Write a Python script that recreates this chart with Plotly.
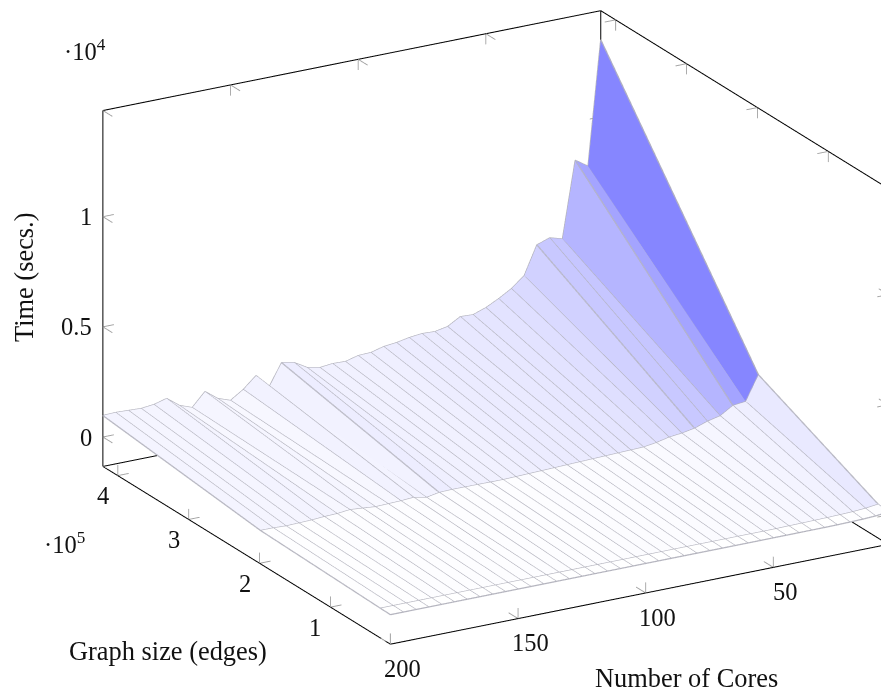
import plotly.graph_objects as go

cores = list(range(200, 0, -5))
edges = [0.155e5, 0.295e5, 1.985e5, 4.21e5]

time_row0 = [5]*30 + [6, 7, 8, 9, 10, 15, 25, 40, 70, 130]
time_row1 = [15]*20 + [18]*10 + [15, 20, 30, 35, 45, 55, 70, 90, 130, 200]
time_row2 = [180, 176, 150, 167, 185, 226, 244, 308, 258, 208, 226, 244, 285, 167, 276, 294, 290, 285, 280, 276,
             294, 312, 330, 348, 367, 385, 403, 421, 439, 457, 475, 561, 692, 756, 864, 1063, 1195, 1552, 1615, 2719]
time_row3 = [973, 993, 968, 941, 1005, 1163, 729, 520, 1131, 697, 493, 873, 1389, 733, 1747, 1629, 1290, 1172, 1235, 1213,
             1367, 1389, 1543, 1606, 1719, 1783, 1756, 1869, 2204, 2176, 2380, 2670, 3009, 3480, 4765, 4968, 4805, 8262, 7878, 13507]
rows = [time_row0, time_row1, time_row2, time_row3]

x_ticks = [200, 150, 100, 50]
y_ticks = [1e5, 2e5, 3e5, 4e5]
y_text = ["1", "2", "3", "4"]
z_ticks = [0, 5000, 10000]
z_text = ["0", "0.5", "1"]

XR = [200, 5]
YR = [0.155e5, 4.21e5]
ZR = [-1335, 14819]
PAD = 0.01

FONT = "Liberation Serif"
nx, ny = len(cores), len(edges)

vx, vy, vz = [], [], []
for r in range(ny):
    for c in range(nx):
        vx.append(cores[c]); vy.append(edges[r]); vz.append(rows[r][c])
I, J, K, cell = [], [], [], []
for r in range(ny - 1):
    for c in range(nx - 1):
        a = r*nx + c; b = a + 1; d = a + nx; e = d + 1
        m = (vz[a] + vz[b] + vz[d] + vz[e]) / 4
        I += [a, b]; J += [b, e]; K += [d, d]
        cell += [m, m]

fig = go.Figure()
fig.add_trace(go.Mesh3d(
    x=vx, y=vy, z=vz, i=I, j=J, k=K,
    intensity=cell, intensitymode="cell",
    colorscale=[[0, "#ffffff"], [1, "#0000ff"]], cmin=0, cmax=max(vz),
    showscale=False, flatshading=True,
    lighting=dict(ambient=1, diffuse=0, specular=0, fresnel=0, roughness=1),
    hoverinfo="skip",
))

lx, ly, lz = [], [], []
for r in range(ny):
    lx += cores + [None]; ly += [edges[r]]*nx + [None]; lz += rows[r] + [None]
for c in range(nx):
    lx += [cores[c]]*ny + [None]; ly += edges + [None]; lz += [rows[r][c] for r in range(ny)] + [None]
fig.add_trace(go.Scatter3d(x=lx, y=ly, z=lz, mode="lines", line=dict(color="#b4b4be", width=2.5), hoverinfo="skip"))

bx, by, bz = [], [], []
def seg(p, q, X, Y, Z):
    X += [p[0], q[0], None]; Y += [p[1], q[1], None]; Z += [p[2], q[2], None]
x0, x1 = XR; y0, y1 = YR; z0, z1 = ZR
for p, q in [((x0,y0,z0),(x1,y0,z0)), ((x0,y0,z0),(x0,y1,z0)), ((x0,y1,z0),(x0,y1,z1)),
             ((x0,y1,z1),(x1,y1,z1)), ((x1,y1,z1),(x1,y0,z1)), ((x1,y1,z0),(x1,y1,z1)),
             ((x0,y1,z0),(x1,y1,z0)), ((x1,y1,z0),(x1,y0,z0)), ((x1,y0,z0),(x1,y0,z1))]:
    seg(p, q, bx, by, bz)
fig.add_trace(go.Scatter3d(x=bx, y=by, z=bz, mode="lines", line=dict(color="#000000", width=2), hoverinfo="skip"))

dxt = (x1 - x0) * 0.022; dyt = (y1 - y0) * 0.033; dzt = (z1 - z0) * 0.03
tx, ty, tz = [], [], []
for v in x_ticks:
    for yy, zz, sy, sz in [(y0, z0, 1, 1), (y1, z0, -1, 1), (y1, z1, -1, -1)]:
        seg((v, yy, zz), (v, yy + sy*dyt, zz), tx, ty, tz)
        seg((v, yy, zz), (v, yy, zz + sz*dzt), tx, ty, tz)
for v in y_ticks:
    for xx, zz, sx, sz in [(x0, z0, 1, 1), (x1, z0, -1, 1), (x1, z1, -1, -1)]:
        seg((xx, v, zz), (xx + sx*dxt, v, zz), tx, ty, tz)
        seg((xx, v, zz), (xx, v, zz + sz*dzt), tx, ty, tz)
for v in z_ticks:
    for xx, yy, sx, sy in [(x0, y1, 1, -1), (x1, y1, -1, -1), (x1, y0, -1, 1)]:
        seg((xx, yy, v), (xx + sx*dxt, yy, v), tx, ty, tz)
        seg((xx, yy, v), (xx, yy + sy*dyt, v), tx, ty, tz)
fig.add_trace(go.Scatter3d(x=tx, y=ty, z=tz, mode="lines", line=dict(color="#a0a0a0", width=1.8), hoverinfo="skip"))

tick_font = dict(family=FONT, size=24.5, color="#111111")
notes = []
for v in x_ticks:
    notes.append(dict(x=v, y=y0, z=z0, text=str(v), showarrow=False, font=tick_font, xshift=12, yshift=-24))
for v, t in zip(y_ticks, y_text):
    notes.append(dict(x=x0, y=v, z=z0, text=t, showarrow=False, font=tick_font, xshift=-15, yshift=-20))
for v, t in zip(z_ticks, z_text):
    notes.append(dict(x=x0, y=y1, z=v, text=t, showarrow=False, font=tick_font, xanchor="right", xshift=-9))

axis = dict(visible=False, showgrid=False, showbackground=False, showspikes=False, zeroline=False)
def padded(r):
    d = (r[1] - r[0]) * PAD
    return [r[0] - d, r[1] + d]

dir_ = (-0.463, -0.813, 0.352)
R = 1.0
SCALE = 1.715
center = dict(x=-0.1476, y=0.0629, z=-0.0489)
title_font = dict(family=FONT, size=26.4, color="#111111")
def label(px, py, text, font=title_font, **kw):
    return dict(xref="paper", yref="paper", x=px/881, y=1-py/691, text=text, showarrow=False, font=font,
                xanchor="center", yanchor="middle", **kw)
fig.update_layout(
    width=881, height=691, margin=dict(l=0, r=0, t=0, b=0), paper_bgcolor="white",
    showlegend=False,
    scene=dict(
        domain=dict(x=[0, 1], y=[0, 1]),
        xaxis=dict(axis, range=padded(XR)), yaxis=dict(axis, range=padded(YR)), zaxis=dict(axis, range=padded(ZR)),
        aspectmode="manual", aspectratio=dict(x=SCALE*574/582, y=SCALE, z=SCALE*381/582),
        camera=dict(projection=dict(type="orthographic"), up=dict(x=0, y=0, z=1), center=center,
                    eye=dict(x=center["x"]+R*dir_[0], y=center["y"]+R*dir_[1], z=center["z"]+R*dir_[2])),
        annotations=notes,
    ),
    annotations=[
        label(24, 277, "Time (secs.)", textangle=-90),
        label(686, 678, "Number of Cores"),
        label(168, 651, "Graph size (edges)"),
        label(85, 50, "·10<sup>4</sup>", font=tick_font),
        label(64, 543, "·10<sup>5</sup>", font=tick_font),
    ],
)
fig.write_html("out.html", post_script="document.body.style.margin='0';", config=dict(displayModeBar=False))
